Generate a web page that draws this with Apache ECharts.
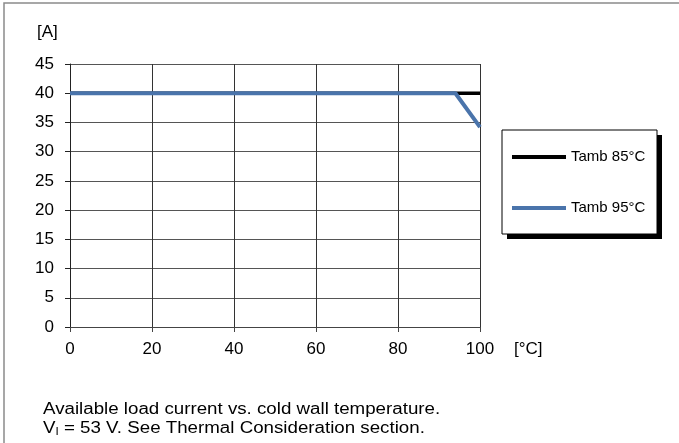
<!DOCTYPE html>
<html>
<head>
<meta charset="utf-8">
<script src="https://cdn.jsdelivr.net/npm/echarts@6/dist/echarts.min.js"></script>
<style>html,body{margin:0;padding:0;background:#fff}#c{width:679px;height:443px}</style>
</head>
<body>
<div id="c"></div>
<script>
// Data
var seriesNames = ['Tamb 85°C', 'Tamb 95°C'];
var tamb85 = [[0, 40], [100, 40]];
var tamb95 = [[0, 40], [94, 40], [100, 34.2]];
var yTicks = [0, 5, 10, 15, 20, 25, 30, 35, 40, 45];
var xTicks = [0, 20, 40, 60, 80, 100];
var yUnit = '[A]';
var xUnit = '[°C]';
var caption1 = 'Available load current vs. cold wall temperature.';
var caption2 = 'V{s|I} = 53 V. See Thermal Consideration section.';

var FONT = '"Liberation Sans", Arial, sans-serif';
var chart = echarts.init(document.getElementById('c'));
chart.setOption({
  animation: false,
  backgroundColor: '#fff',
  grid: { left: 70, right: 199, top: 64, bottom: 116, containLabel: false },
  xAxis: {
    type: 'value', min: 0, max: 100, interval: 20,
    axisLine: { show: true, lineStyle: { color: '#444', width: 1 } },
    axisTick: { show: true, length: 5, inside: false, lineStyle: { color: '#444' } },
    axisLabel: { margin: 14, color: '#000', fontSize: 17, fontFamily: FONT },
    splitLine: { show: true, lineStyle: { color: '#333', width: 1 } }
  },
  yAxis: {
    type: 'value', min: 0, max: 45, interval: 5,
    axisLine: { show: true, lineStyle: { color: '#222', width: 1 } },
    axisTick: { show: true, length: 5, inside: false, lineStyle: { color: '#222' } },
    axisLabel: { margin: 16, color: '#000', fontSize: 17, fontFamily: FONT },
    splitLine: { show: true, lineStyle: { color: '#555', width: 1 } }
  },
  legend: {
    data: seriesNames,
    orient: 'vertical',
    left: 502, top: 130,
    padding: [19, 10, 18, 10],
    icon: 'path://M0,0L54,0L54,4L0,4Z',
    itemWidth: 54, itemHeight: 4, itemGap: 35,
    textStyle: { fontSize: 15, fontFamily: FONT, color: '#000', lineHeight: 16 },
    backgroundColor: 'transparent'
  },
  graphic: [
    { type: 'rect', z: -10, shape: { x: 4, y: 3, width: 720, height: 520 }, style: { fill: 'none', stroke: '#8a8a8a', lineWidth: 1.5 } },
    { type: 'rect', z: -5, shape: { x: 507, y: 135, width: 155, height: 104 }, style: { fill: '#000' } },
    { type: 'rect', z: -4, shape: { x: 502, y: 130, width: 155, height: 104 }, style: { fill: '#fff', stroke: '#000', lineWidth: 1 } },
    { type: 'text', left: 37, top: 24, style: { text: yUnit, font: '17px ' + FONT, fill: '#000' } },
    { type: 'text', left: 514, top: 341, style: { text: xUnit, font: '17px ' + FONT, fill: '#000' } },
    { type: 'text', x: 43, y: 402, scaleX: 1.17, style: { text: caption1, font: '16px ' + FONT, fill: '#000', textVerticalAlign: 'top' } },
    { type: 'text', x: 43, y: 421, scaleX: 1.17, style: { text: caption2, font: '16px ' + FONT, fill: '#000', textVerticalAlign: 'top',
        rich: { s: { fontSize: 10, fontFamily: FONT, padding: [6, 0, 0, 0] } } } }
  ],
  series: [
    { name: seriesNames[0], type: 'line', data: tamb85, symbol: 'none', z: 2,
      lineStyle: { color: '#000', width: 3.5 }, itemStyle: { color: '#000' } },
    { name: seriesNames[1], type: 'line', data: tamb95, symbol: 'none', z: 3,
      lineStyle: { color: '#4a74ab', width: 4 }, itemStyle: { color: '#4a74ab' } }
  ]
});
</script>
</body>
</html>
